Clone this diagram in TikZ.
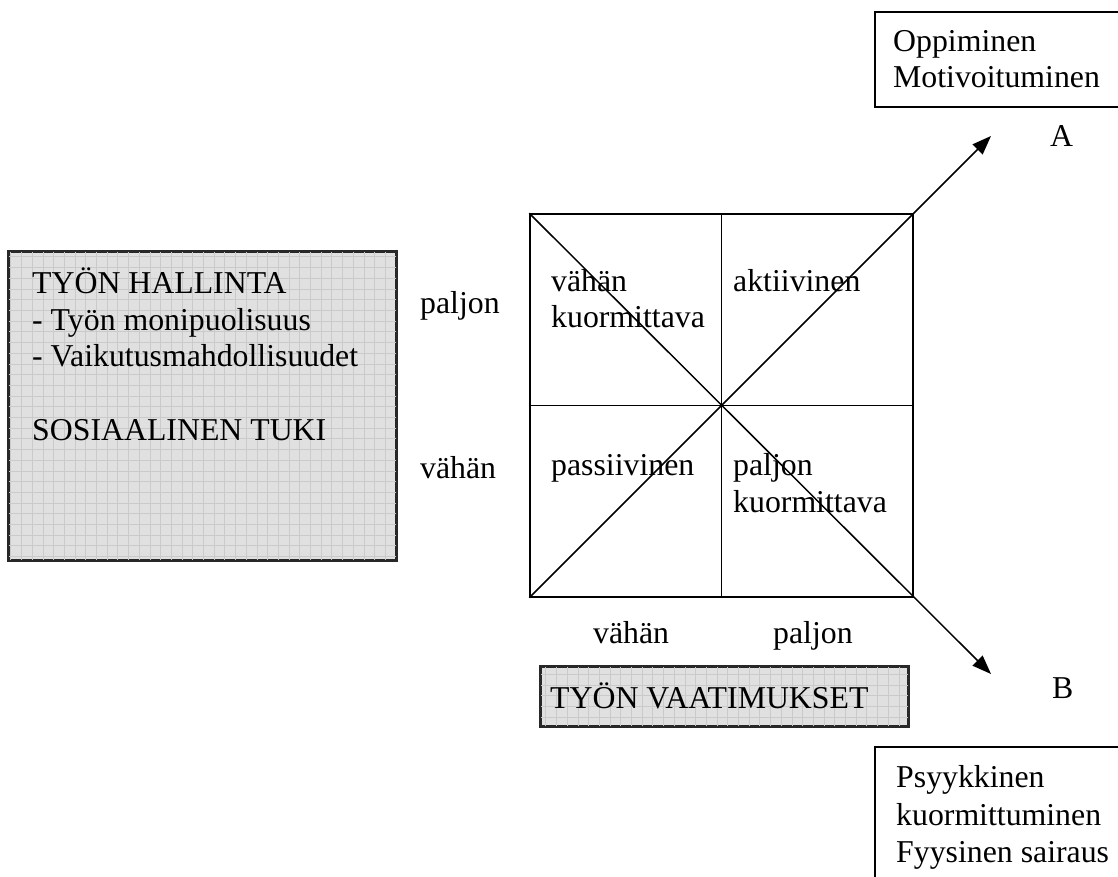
\documentclass[tikz,border=0pt]{standalone}
\usepackage{fontspec}
\setmainfont{Liberation Serif}
\usetikzlibrary{arrows.meta}
\definecolor{boxgray}{RGB}{224,224,224}
\definecolor{gridgray}{RGB}{202,202,202}
\definecolor{edgegray}{RGB}{40,40,40}
\tikzset{
  lbl/.style={anchor=base west, inner sep=0pt, font=\fontsize{31.8}{36.7}\selectfont},
  sqline/.style={line width=1.5pt, black},
  arr/.style={line width=1.5pt, -{Triangle[length=19pt,width=14pt]}},
  whitebox/.style={draw, line width=1.6pt, inner sep=0pt},
  graybox/.style={draw=edgegray, line width=2.2pt, fill=boxgray, inner sep=0pt},
}
\begin{document}
\begin{tikzpicture}[x=1pt,y=-1pt]
\useasboundingbox (0,0) rectangle (1118,877);
\clip (0,0) rectangle (1118,877);
\fill[white] (0,0) rectangle (1118,877);

% gray box left
\node[graybox, minimum width=387pt, minimum height=308pt] (hallinta) at (202.5,406) {};
\begin{scope}
\clip (9,252) rectangle (396,560);
\draw[gridgray, line width=0.6pt, step=10.7pt] (0,0) grid (400,600);
\end{scope}
\draw[edgegray, line width=2.2pt] (hallinta.north west) rectangle (hallinta.south east);

% gray box bottom
\node[graybox, minimum width=367pt, minimum height=59pt] (vaat) at (724.5,696.5) {};
\begin{scope}
\clip (541,667) rectangle (908,726);
\draw[gridgray, line width=0.6pt, step=10.7pt] (530,660) grid (920,730);
\end{scope}
\draw[edgegray, line width=2.2pt] (vaat.north west) rectangle (vaat.south east);

% white boxes at right
\node[whitebox, minimum width=260pt, minimum height=95pt] (boxA) at (1005,59.5) {};
\node[whitebox, minimum width=260pt, minimum height=150pt] (boxB) at (1005,822) {};

% square
\node[draw, sqline, minimum size=383pt, inner sep=0pt] (sq) at (721.5,405.5) {};
\draw[sqline] (sq.north) -- (sq.south);
\draw[sqline] (sq.west) -- (sq.east);
\coordinate (tipA) at (991,136);
\coordinate (tipB) at (991,674);
\draw[arr] (sq.south west) -- (tipA);
\draw[arr] (sq.north west) -- (tipB);

% texts in left box
\node[lbl] (t1) at (32,293) {TYÖN HALLINTA};
\node[lbl] (t2) at (32,330) {- Työn monipuolisuus};
\node[lbl] (t3) at (32,366) {- Vaikutusmahdollisuudet};
\node[lbl] (t4) at (32,440) {SOSIAALINEN TUKI};

% axis labels
\node[lbl] (yhigh) at (420,313) {paljon};
\node[lbl] (ylow) at (420,478) {vähän};
\node[lbl] (xlow) at (593,643) {vähän};
\node[lbl] (xhigh) at (773,643) {paljon};

% cells
\node[lbl] (c1a) at (551,291) {vähän};
\node[lbl] (c1b) at (551,327) {kuormittava};
\node[lbl] (c2) at (733,291) {aktiivinen};
\node[lbl] (c3) at (551,475) {passiivinen};
\node[lbl] (c4a) at (733,475) {paljon};
\node[lbl] (c4b) at (733,512) {kuormittava};

% bottom gray box text
\node[lbl] (vt) at (550,708) {TYÖN VAATIMUKSET};

% right side
\node[lbl] (a1) at (893,52) {Oppiminen};
\node[lbl] (a2) at (893,88) {Motivoituminen};
\node[lbl] (la) at (1050,147) {A};
\node[lbl] (lb) at (1052,698) {B};
\node[lbl] (b1) at (896,787) {Psyykkinen};
\node[lbl] (b2) at (896,825) {kuormittuminen};
\node[lbl] (b3) at (896,862) {Fyysinen sairaus};
\end{tikzpicture}
\end{document}
